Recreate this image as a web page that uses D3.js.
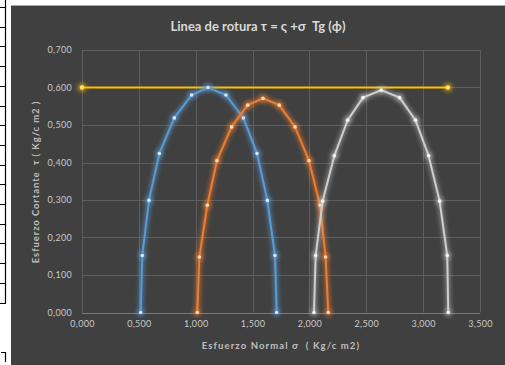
<!DOCTYPE html>
<html><head><meta charset="utf-8">
<script src="https://cdn.jsdelivr.net/npm/d3@7"></script>
<style>html,body{margin:0;padding:0;background:#fff;}svg{display:block;} text{white-space:pre;}</style>
</head><body>
<script>
// ---- data ----
const xTickValues = [0, 0.5, 1.0, 1.5, 2.0, 2.5, 3.0, 3.5];
const yTickValues = [0, 0.1, 0.2, 0.3, 0.4, 0.5, 0.6, 0.7];
const lineSigma = [0, 3.218];
const lineTau = [0.600, 0.600];
const blueSigma = [0.516, 0.530, 0.589, 0.680, 0.812, 0.964, 1.108, 1.266, 1.419, 1.539, 1.630, 1.697, 1.712];
const blueTau   = [0, 0.152, 0.299, 0.424, 0.519, 0.580, 0.600, 0.580, 0.519, 0.424, 0.299, 0.152, 0];
const orangeSigma = [1.014, 1.032, 1.102, 1.187, 1.316, 1.457, 1.592, 1.735, 1.873, 1.996, 2.093, 2.142, 2.166];
const orangeTau   = [0, 0.148, 0.286, 0.405, 0.495, 0.553, 0.571, 0.553, 0.495, 0.405, 0.286, 0.148, 0];
const graySigma = [2.040, 2.055, 2.116, 2.219, 2.336, 2.471, 2.632, 2.793, 2.933, 3.048, 3.145, 3.212, 3.221];
const grayTau   = [0, 0.152, 0.297, 0.418, 0.513, 0.573, 0.593, 0.573, 0.513, 0.418, 0.297, 0.152, 0];
const titleText = "Linea de rotura \u03C4 = \u03C2 +\u03C3  Tg (\u03D5)";
const xTitle = "Esfuerzo Normal \u03C3  ( Kg/c m2)";
const yTitle = "Esfuerzo Cortante  \u03C4 ( Kg/c m2 )";

const W = 505, H = 365;
const svg = d3.select("body").append("svg").attr("width", W).attr("height", H);
const defs = svg.append("defs");
const glow = defs.append("filter").attr("id","glow").attr("x","-50%").attr("y","-50%").attr("width","200%").attr("height","200%");
glow.append("feGaussianBlur").attr("stdDeviation", 2.2);

// spreadsheet remnants on the left
svg.append("line").attr("x1",5.5).attr("x2",5.5).attr("y1",0).attr("y2",303).attr("stroke","#000").attr("stroke-width",1.2);
d3.range(16).forEach(i=>{
  const y = Math.round(7 + i*19.7)+0.5;
  svg.append("line").attr("x1",0).attr("x2",6).attr("y1",y).attr("y2",y).attr("stroke","#000").attr("stroke-width",1);
});
svg.append("path").attr("d","M1,352.5 H5.5 V362").attr("fill","none").attr("stroke","#000").attr("stroke-width",1.2);

// chart area
svg.append("rect").attr("x",11).attr("y",5).attr("width",W-11).attr("height",H-5).attr("fill","#404040");
svg.append("line").attr("x1",11).attr("x2",W).attr("y1",5.5).attr("y2",5.5).attr("stroke","#a6a6a6").attr("stroke-width",1);

const x = d3.scaleLinear().domain([0,3.5]).range([82,480]);
const y = d3.scaleLinear().domain([0,0.7]).range([312.5,50]);
const loc = d3.formatLocale({decimal:",", thousands:".", grouping:[3], currency:["",""]});
const fmt = loc.format(".3f");

// gridlines
const g = svg.append("g");
g.selectAll(".vg").data(xTickValues).join("line")
  .attr("x1",d=>Math.round(x(d))+0.5).attr("x2",d=>Math.round(x(d))+0.5)
  .attr("y1",y(0.7)).attr("y2",y(0)).attr("stroke","#5e5e5e").attr("stroke-width",1);
g.selectAll(".hg").data(yTickValues).join("line")
  .attr("y1",d=>Math.round(y(d))+0.5).attr("y2",d=>Math.round(y(d))+0.5)
  .attr("x1",x(0)).attr("x2",x(3.5)).attr("stroke",d=>d===0?"#7a7a7a":"#5e5e5e").attr("stroke-width",1);

// axes via d3 axis (labels only)
const xAxis = d3.axisBottom(x).tickValues(xTickValues).tickFormat(fmt).tickSize(0).tickPadding(0);
const gx = svg.append("g").attr("transform","translate(0,321)").call(xAxis);
const yAxis = d3.axisLeft(y).tickValues(yTickValues).tickFormat(fmt).tickSize(0).tickPadding(0);
const gy = svg.append("g").attr("transform","translate(72,0)").call(yAxis);
[gx,gy].forEach(a=>{
  a.select(".domain").remove();
  a.selectAll("text").attr("fill","#c8c8c8").style("font-family","Lato, 'Open Sans', sans-serif").style("font-size","9px")
    .style("letter-spacing","0.3px");
});
gx.selectAll("text").attr("dy","0.71em");

// titles
svg.append("text").attr("x",258).attr("y",31).attr("text-anchor","middle")
  .attr("fill","#d9d9d9").style("font-family","Lato, sans-serif").style("font-weight","bold").style("font-size","13px")
  .text(titleText);
svg.append("text").attr("x",281).attr("y",349).attr("text-anchor","middle")
  .attr("fill","#bfbfbf").style("font-family","Lato, sans-serif").style("font-weight","bold").style("font-size","9.5px")
  .style("letter-spacing","1.1px").text(xTitle);
svg.append("text").attr("transform","translate(39,182) rotate(-90)").attr("text-anchor","middle")
  .attr("fill","#bfbfbf").style("font-family","Lato, sans-serif").style("font-weight","bold").style("font-size","9.5px")
  .style("letter-spacing","0.9px").text(yTitle);

// series
const series = [
  {sx: lineSigma, ty: lineTau, color:"#ffc000", marker:"#ffe566", mr:2.2, glowOp:0.7},
  {sx: blueSigma, ty: blueTau, color:"#5b9bd5", marker:"#d6e8f7", mr:1.8, glowOp:0.55},
  {sx: orangeSigma, ty: orangeTau, color:"#ed7d31", marker:"#fbd9c0", mr:1.8, glowOp:0.55},
  {sx: graySigma, ty: grayTau, color:"#cfcfcf", marker:"#f4f4f4", mr:1.8, glowOp:0.45}
];
const line = d3.line().x(d=>x(d[0])).y(d=>y(d[1]));
series.forEach(s=>{
  const pts = s.sx.map((v,i)=>[v, s.ty[i]]);
  const sg = svg.append("g");
  sg.append("path").attr("d",line(pts)).attr("fill","none").attr("stroke",s.color)
    .attr("stroke-width",5).attr("opacity",s.glowOp).attr("filter","url(#glow)");
  sg.selectAll(".gm").data(pts).join("circle").attr("cx",d=>x(d[0])).attr("cy",d=>y(d[1]))
    .attr("r",4).attr("fill",s.color).attr("opacity",s.glowOp).attr("filter","url(#glow)");
  sg.append("path").attr("d",line(pts)).attr("fill","none").attr("stroke",s.color).attr("stroke-width",2);
  sg.selectAll(".m").data(pts).join("circle").attr("cx",d=>x(d[0])).attr("cy",d=>y(d[1]))
    .attr("r",s.mr).attr("fill",s.marker);
});
</script>
</body></html>
